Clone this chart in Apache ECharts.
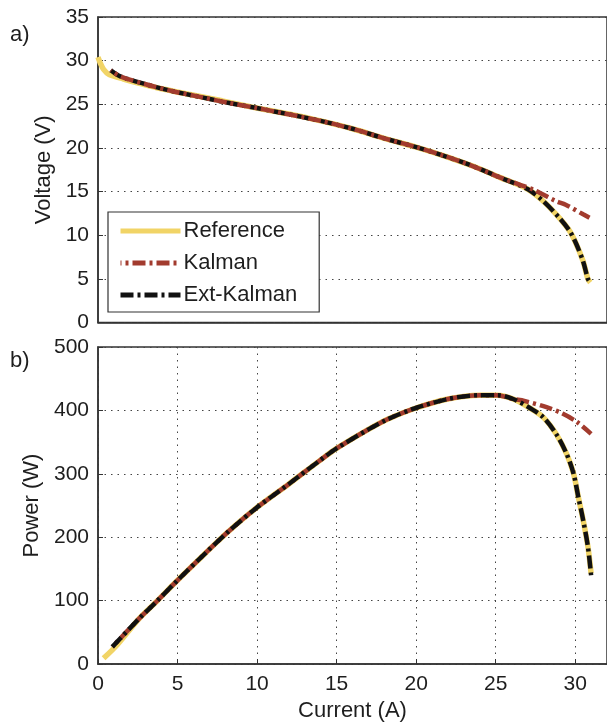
<!DOCTYPE html>
<html>
<head>
<meta charset="utf-8">
<script src="https://cdn.jsdelivr.net/npm/echarts@6/dist/echarts.min.js"></script>
<style>
html,body{margin:0;padding:0;background:#fff;}
#chart{width:607px;height:723px;}
</style>
</head>
<body>
<div id="chart"></div>
<script>
// ---- a) Voltage vs Current ----
const refCurrentV = [0, 0.15, 0.35, 0.7, 1.6, 2.6, 3.7, 5.7, 7.8, 9.9, 12, 14, 16, 18, 20, 21.75, 23.6, 25.3, 27, 28, 29, 29.65, 30.07, 30.5, 30.8, 30.95];
const refVoltage  = [30.4, 29.7, 29.0, 28.4, 27.9, 27.4, 26.9, 26.15, 25.4, 24.6, 23.9, 23.1, 22.2, 21.1, 20.1, 19.1, 17.9, 16.6, 15.3, 13.9, 12.0, 10.5, 9.0, 7.0, 5.0, 4.6];

const kalCurrentV = [0.8, 1.4, 3.0, 4.7, 6.4, 8.1, 9.9, 11.6, 14, 16, 18, 20, 21.75, 23.6, 25.3, 26.5, 27.4, 28.8, 29.4, 30.5, 30.9];
const kalVoltage  = [28.9, 28.2, 27.3, 26.5, 25.85, 25.2, 24.6, 24.0, 23.1, 22.2, 21.1, 20.1, 19.1, 17.9, 16.6, 15.8, 15.2, 13.9, 13.5, 12.4, 12.0];

const extCurrentV = [0.8, 1.4, 3.0, 4.7, 6.4, 8.1, 9.9, 11.6, 14, 16, 18, 20, 21.75, 23.6, 25.3, 27, 28, 29, 29.65, 30.07, 30.5, 30.8, 30.9];
const extVoltage  = [28.9, 28.2, 27.3, 26.5, 25.85, 25.2, 24.6, 24.0, 23.1, 22.2, 21.1, 20.1, 19.1, 17.9, 16.6, 15.3, 13.9, 12.0, 10.5, 9.0, 7.0, 5.0, 4.7];

// ---- b) Power vs Current ----
const refCurrentP = [0.35, 1.2, 2.6, 3.7, 5.0, 6.8, 8.2, 9.9, 12.0, 14.0, 15.0, 17.0, 18.2, 19.9, 22.0, 24.0, 25.1, 26.1, 27.2, 28.0, 28.8, 29.45, 29.9, 30.2, 30.5, 30.8, 31.0];
const refPower    = [9, 30, 72, 99, 132, 176, 209, 245, 284, 322, 340, 370, 386, 403, 418, 424, 424, 418, 403, 389, 363, 332, 300, 263, 227, 185, 143];

const kalCurrentP = [0.9, 2.6, 3.7, 5.0, 6.8, 8.2, 9.9, 12.0, 14.0, 15.0, 17.0, 18.2, 19.9, 22.0, 24.0, 25.1, 26.1, 26.8, 28.2, 29.2, 30.1, 31.0];
const kalPower    = [27, 72, 99, 132, 176, 209, 245, 284, 322, 340, 370, 386, 403, 418, 424, 424, 418, 415, 405, 395, 382, 363];

const extCurrentP = [0.9, 2.6, 3.7, 5.0, 6.8, 8.2, 9.9, 12.0, 14.0, 15.0, 17.0, 18.2, 19.9, 22.0, 24.0, 25.1, 26.1, 27.2, 28.0, 28.8, 29.45, 29.9, 30.2, 30.5, 30.8, 31.0];
const extPower    = [27, 72, 99, 132, 176, 209, 245, 284, 322, 340, 370, 386, 403, 418, 424, 424, 418, 403, 389, 363, 332, 300, 263, 227, 185, 140];

const seriesNames = ['Reference', 'Kalman', 'Ext-Kalman'];
const voltageTicks = { min: 0, max: 35, interval: 5 };
const powerTicks = { min: 0, max: 500, interval: 100 };
const currentTicks = { min: 0, max: 32, interval: 5 };

function zip(xs, ys) { return xs.map((x, i) => [x, ys[i]]); }

const FONT = 'Liberation Sans, Arial, sans-serif';
const TXT = '#1e1e1e';
const AX = '#333';
const dotted = { show: true, lineStyle: { color: '#444', width: 1, type: [1.5, 5] } };

const styles = {
  'Reference': { color: '#f1d466', width: 5.5, type: 'solid', offset: 0 },
  'Kalman': { color: '#a23b2e', width: 4.5, type: [13, 4, 3, 4], offset: 12 },
  'Ext-Kalman': { color: '#111111', width: 4.5, type: [13, 4, 3, 4], offset: 0 }
};

function mkSeries(name, data, xi, yi, z) {
  const s = styles[name];
  return {
    name, type: 'line', xAxisIndex: xi, yAxisIndex: yi, data,
    symbol: 'none', showSymbol: false, smooth: 0.3, z,
    lineStyle: { color: s.color, width: s.width, type: s.type, dashOffset: s.offset, cap: 'butt' },
    itemStyle: { color: s.color },
    animation: false
  };
}

const chart = echarts.init(document.getElementById('chart'), null, { renderer: 'canvas' });

const axisLabelStyle = { fontFamily: FONT, fontSize: 21, color: TXT };
const nameStyle = { fontFamily: FONT, fontSize: 22, color: TXT };

chart.setOption({
  animation: false,
  backgroundColor: '#fff',
  grid: [
    { left: 98, right: -4, top: 17, height: 305.6, show: true, borderColor: AX, borderWidth: 1.5, backgroundColor: 'transparent' },
    { left: 98, right: -4, top: 347, height: 317, show: true, borderColor: AX, borderWidth: 1.5, backgroundColor: 'transparent' }
  ],
  xAxis: [
    { gridIndex: 0, type: 'value', min: currentTicks.min, max: currentTicks.max, interval: currentTicks.interval,
      axisLine: { show: true, onZero: false, lineStyle: { color: AX, width: 1.5 } },
      axisTick: { show: false }, axisLabel: { show: false }, splitLine: { show: false } },
    { gridIndex: 1, type: 'value', min: currentTicks.min, max: currentTicks.max, interval: currentTicks.interval,
      name: 'Current (A)', nameLocation: 'middle', nameGap: 36, nameTextStyle: nameStyle,
      axisLine: { show: true, onZero: false, lineStyle: { color: AX, width: 1.5 } },
      axisTick: { show: true, inside: true, length: 5, lineStyle: { color: AX } },
      axisLabel: { ...axisLabelStyle, margin: 10, showMaxLabel: false },
      splitLine: dotted }
  ],
  yAxis: [
    { gridIndex: 0, type: 'value', min: voltageTicks.min, max: voltageTicks.max, interval: voltageTicks.interval,
      name: 'Voltage (V)', nameLocation: 'middle', nameGap: 43, nameTextStyle: nameStyle,
      axisLine: { show: true, onZero: false, lineStyle: { color: AX, width: 1.5 } },
      axisTick: { show: true, inside: true, length: 5, lineStyle: { color: AX } },
      axisLabel: { ...axisLabelStyle, margin: 9 },
      splitLine: dotted },
    { gridIndex: 1, type: 'value', min: powerTicks.min, max: powerTicks.max, interval: powerTicks.interval,
      name: 'Power (W)', nameLocation: 'middle', nameGap: 55, nameTextStyle: nameStyle,
      axisLine: { show: true, onZero: false, lineStyle: { color: AX, width: 1.5 } },
      axisTick: { show: true, inside: true, length: 5, lineStyle: { color: AX } },
      axisLabel: { ...axisLabelStyle, margin: 9 },
      splitLine: dotted }
  ],
  legend: {
    show: true, orient: 'vertical', left: 108, top: 212,
    data: seriesNames,
    itemWidth: 60, itemHeight: 14, itemGap: 10,
    padding: [8, 22, 6, 10],
    borderColor: '#333', borderWidth: 1.2, backgroundColor: '#fff',
    itemStyle: { opacity: 0 },
    lineStyle: { width: 5 },
    textStyle: { fontFamily: FONT, fontSize: 22, color: TXT, padding: [0, 0, 0, -2] },
    selectedMode: false
  },
  graphic: [
    { type: 'text', left: 10, top: 24, style: { text: 'a)', font: '22px ' + FONT, fill: TXT } },
    { type: 'text', left: 10, top: 350, style: { text: 'b)', font: '22px ' + FONT, fill: TXT } }
  ],
  series: [
    mkSeries('Reference', zip(refCurrentV, refVoltage), 0, 0, 2),
    mkSeries('Ext-Kalman', zip(extCurrentV, extVoltage), 0, 0, 3),
    mkSeries('Kalman', zip(kalCurrentV, kalVoltage), 0, 0, 4),
    mkSeries('Reference', zip(refCurrentP, refPower), 1, 1, 2),
    mkSeries('Kalman', zip(kalCurrentP, kalPower), 1, 1, 3),
    mkSeries('Ext-Kalman', zip(extCurrentP, extPower), 1, 1, 4)
  ]
});
</script>
</body>
</html>
